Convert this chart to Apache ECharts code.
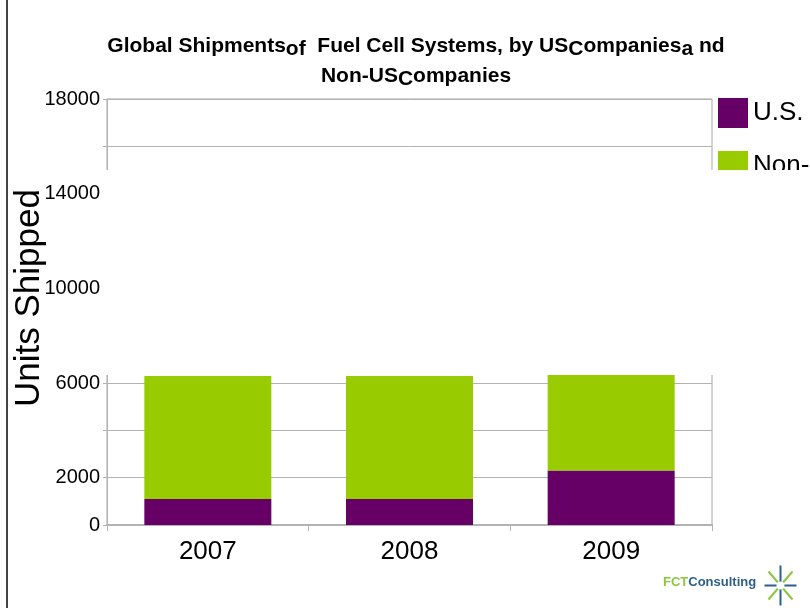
<!DOCTYPE html>
<html>
<head>
<meta charset="utf-8">
<script src="https://cdn.jsdelivr.net/npm/echarts@6/dist/echarts.min.js"></script>
<style>
  html, body { margin: 0; padding: 0; background: #fff; }
  #frame { position: absolute; left: 6px; top: 0; width: 2px; height: 608px; background: #444; }
  #chart { width: 810px; height: 608px; }
</style>
</head>
<body>
<div id="chart"></div>
<div id="frame"></div>
<script>
// chart data
const years = ['2007', '2008', '2009']
const usCompanies = [1100, 1100, 2300]
const nonUsCompanies = [5200, 5200, 4050]
const yTickLabels = [0, 2000, 6000, 10000, 14000, 18000]

const chart = echarts.init(document.getElementById('chart'), null, { renderer: 'canvas' })

const option = {
  animation: false,
  title: {
    text: 'Global Shipments{s|of}  Fuel Cell Systems, by US{s|C}ompanies{s|a} nd\nNon-US{s|C}ompanies',
    left: 411,
    top: 26,
    textAlign: 'center',
    textStyle: {
      fontFamily: 'Liberation Sans Narrow, Arial Narrow, Liberation Sans, sans-serif',
      fontWeight: 'bold',
      fontSize: 21,
      color: '#000',
      lineHeight: 30,
      rich: {
        s: {
          fontFamily: 'Liberation Sans Narrow, Arial Narrow, Liberation Sans, sans-serif',
          fontWeight: 'bold',
          fontSize: 21,
          color: '#000',
          padding: [7, 0, 0, 0]
        }
      }
    }
  },
  legend: {
    left: 718,
    top: 98,
    padding: 0,
    orient: 'vertical',
    itemWidth: 30,
    itemHeight: 30,
    itemGap: 23,
    icon: 'rect',
    textStyle: {
      fontFamily: 'Liberation Sans, Arial, sans-serif',
      fontSize: 26,
      color: '#000'
    },
    data: ['U.S.', 'Non-U.S.']
  },
  grid: {
    left: 107,
    right: 98,
    top: 99,
    bottom: 83,
    outerBoundsMode: 'none',
    containLabel: false,
    show: true,
    borderColor: '#a6a6a6',
    borderWidth: 1
  },
  xAxis: {
    type: 'category',
    data: years,
    axisLine: { lineStyle: { color: '#b3b3b3', width: 2 } },
    axisTick: { show: true, length: 6, lineStyle: { color: '#b3b3b3' } },
    axisLabel: {
      fontFamily: 'Liberation Sans, Arial, sans-serif',
      fontSize: 26,
      color: '#000',
      margin: 14
    }
  },
  yAxis: {
    type: 'value',
    min: 0,
    max: 18000,
    interval: 2000,
    name: 'Units Shipped',
    nameLocation: 'middle',
    nameGap: 60,
    nameMoveOverlap: false,
    nameTextStyle: {
      fontFamily: 'Liberation Sans, Arial, sans-serif',
      fontSize: 35,
      color: '#000',
      padding: [0, 0, 0, 28]
    },
    axisLine: { show: true, lineStyle: { color: '#b3b3b3' } },
    axisTick: { show: true, length: 4, lineStyle: { color: '#b3b3b3' } },
    splitLine: { show: true, lineStyle: { color: '#b3b3b3' } },
    axisLabel: {
      fontFamily: 'Liberation Sans, Arial, sans-serif',
      fontSize: 20,
      color: '#000',
      margin: 7,
      formatter: function (v) {
        return yTickLabels.indexOf(v) >= 0 ? String(v) : ''
      }
    }
  },
  series: [
    {
      name: 'U.S.',
      type: 'bar',
      stack: 'total',
      barWidth: 127,
      itemStyle: { color: '#660066' },
      data: usCompanies
    },
    {
      name: 'Non-U.S.',
      type: 'bar',
      stack: 'total',
      barWidth: 127,
      itemStyle: { color: '#99cc00' },
      data: nonUsCompanies
    }
  ],
  graphic: [
    // the blank band through the middle of the plot in the original
    {
      type: 'rect',
      z: 100,
      shape: { x: 102, y: 170, width: 708, height: 205 },
      style: { fill: '#fff' }
    },
    {
      type: 'text',
      z: 101,
      left: 663,
      top: 576,
      style: {
        text: '{g|FCT}{b|Consulting}',
        rich: {
          g: { fontFamily: 'Liberation Sans, Arial, sans-serif', fontSize: 13, fontWeight: 'bold', fill: '#8cc63f' },
          b: { fontFamily: 'Liberation Sans, Arial, sans-serif', fontSize: 13, fontWeight: 'bold', fill: '#2e5f8a' }
        }
      }
    },
    {
      type: 'group',
      z: 101,
      left: 762,
      top: 563,
      children: [
        { type: 'line', shape: { x1: 16, y1: 0, x2: 16, y2: 40 }, style: { stroke: '#2e5f8a', lineWidth: 2 } },
        { type: 'line', shape: { x1: 0, y1: 20, x2: 32, y2: 20 }, style: { stroke: '#2e5f8a', lineWidth: 2 } },
        { type: 'line', shape: { x1: 4, y1: 6, x2: 28, y2: 34 }, style: { stroke: '#8cc63f', lineWidth: 2 } },
        { type: 'line', shape: { x1: 28, y1: 6, x2: 4, y2: 34 }, style: { stroke: '#8cc63f', lineWidth: 2 } },
        { type: 'circle', shape: { cx: 16, cy: 20, r: 4 }, style: { fill: '#fff' } }
      ]
    }
  ]
}

chart.setOption(option)
</script>
</body>
</html>
